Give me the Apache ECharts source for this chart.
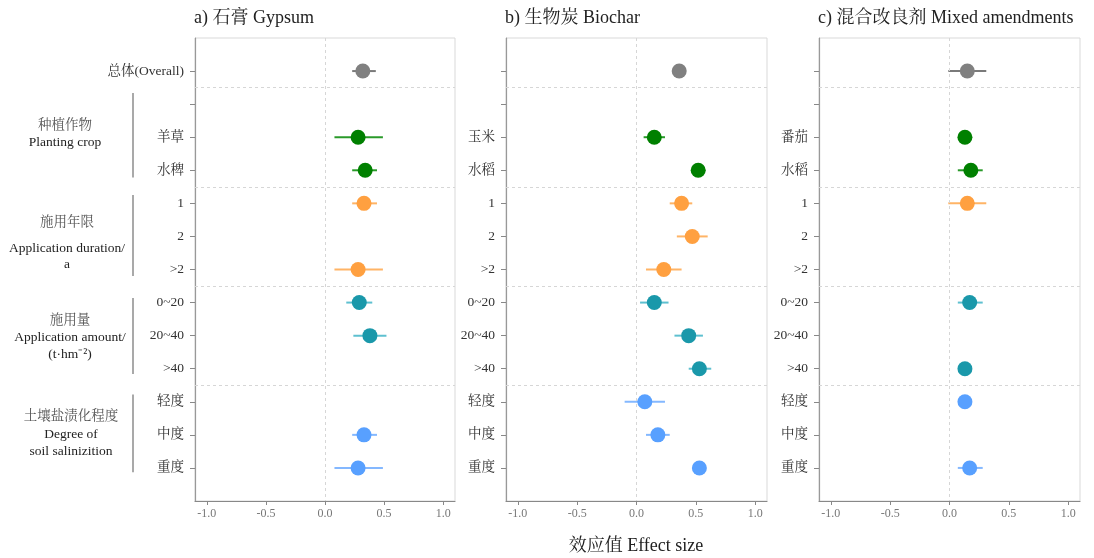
<!DOCTYPE html>
<html>
<head>
<meta charset="utf-8">
<script src="https://cdn.jsdelivr.net/npm/echarts@6/dist/echarts.min.js"></script>
<style>
  html, body { margin: 0; padding: 0; background: #fff; }
  #chart { width: 1094px; height: 558px; }
</style>
</head>
<body>
<div id="chart"></div>
<script>
// Row labels per panel (top to bottom)
const rowLabelsGypsum  = ['总体(Overall)', '', '羊草', '水稗', '1', '2', '>2', '0~20', '20~40', '>40', '轻度', '中度', '重度'];
const rowLabelsBiochar = ['', '', '玉米', '水稻', '1', '2', '>2', '0~20', '20~40', '>40', '轻度', '中度', '重度'];
const rowLabelsMixed   = ['', '', '番茄', '水稻', '1', '2', '>2', '0~20', '20~40', '>40', '轻度', '中度', '重度'];

// Effect sizes with 95% CI (null = no data for that subgroup)
const gypsumMean  = [0.32, null, 0.28, 0.34, 0.33, null, 0.28, 0.29, 0.38, null, null, 0.33, 0.28];
const gypsumLow   = [0.23, null, 0.08, 0.23, 0.23, null, 0.08, 0.18, 0.24, null, null, 0.23, 0.08];
const gypsumHigh  = [0.43, null, 0.49, 0.44, 0.44, null, 0.49, 0.40, 0.52, null, null, 0.44, 0.49];

const biocharMean = [0.36, null, 0.15, 0.52, 0.38, 0.47, 0.23, 0.15, 0.44, 0.53, 0.07, 0.18, 0.53];
const biocharLow  = [0.33, null, 0.06, 0.47, 0.28, 0.34, 0.08, 0.03, 0.32, 0.44, -0.10, 0.08, 0.49];
const biocharHigh = [0.39, null, 0.24, 0.58, 0.47, 0.60, 0.38, 0.27, 0.56, 0.63, 0.24, 0.28, 0.57];

const mixedMean   = [0.15, null, 0.13, 0.18, 0.15, null, null, 0.17, null, 0.13, 0.13, null, 0.17];
const mixedLow    = [-0.01, null, 0.11, 0.07, -0.01, null, null, 0.07, null, 0.10, 0.10, null, 0.07];
const mixedHigh   = [0.31, null, 0.15, 0.28, 0.31, null, null, 0.28, null, 0.16, 0.16, null, 0.28];

// Which factor group each row belongs to
const rowGroup = [0, 1, 1, 1, 2, 2, 2, 3, 3, 3, 4, 4, 4];
const pointColors = ['#808080', '#008000', '#FFA040', '#1A98AA', '#58A0FF'];
const barColors   = ['#7a7a7a', '#2a9a2a', '#FFB466', '#5EC0D0', '#84B8FF'];

// Group separators (between rows) and x ticks
const separators = [0.5, 3.5, 6.5, 9.5];
const xTicks = [-1, -0.5, 0, 0.5, 1];

const panelTitles = ['a) 石膏 Gypsum', 'b) 生物炭 Biochar', 'c) 混合改良剂 Mixed amendments'];

// Left-side factor group annotations: row span of bracket, and caption lines (text, row position)
const groupSpans = [[0.66, 3.22], [3.75, 6.2], [6.86, 9.16], [9.78, 12.13]];
const groupTexts = [
  [['种植作物', 1.63], ['Planting crop', 2.17]],
  [['施用年限', 4.59], ['Application duration/', 5.35], ['a', 5.86]],
  [['施用量', 7.53], ['Application amount/', 8.06], ['(t·hm⁻²)', 8.56]],
  [['土壤盐渍化程度', 10.45], ['Degree of', 10.98], ['soil salinizition', 11.49]]
];
const groupTextX = [65, 67, 70, 71];

const FONT = "'Liberation Serif', 'Noto Serif CJK SC', 'Noto Sans CJK SC', serif";

const panels = [
  { labels: rowLabelsGypsum,  mean: gypsumMean,  low: gypsumLow,  high: gypsumHigh,  left: 195, width: 260 },
  { labels: rowLabelsBiochar, mean: biocharMean, low: biocharLow, high: biocharHigh, left: 506, width: 261 },
  { labels: rowLabelsMixed,   mean: mixedMean,   low: mixedLow,   high: mixedHigh,   left: 819, width: 261 }
];
const gridTop = 38, gridHeight = 463;
const rowIdx = rowGroup.map((_, i) => i);

const grids = [], xAxes = [], yAxes = [], series = [], titles = [];

panels.forEach((p, k) => {
  grids.push({ left: p.left, top: gridTop, width: p.width, height: gridHeight,
               show: true, borderColor: '#d9d9d9', borderWidth: 1, backgroundColor: 'transparent' });
  titles.push({ text: panelTitles[k], left: p.left - 1, top: 9, padding: 0,
                textStyle: { fontFamily: FONT, fontSize: 18, fontWeight: 'normal', color: '#222' } });
  xAxes.push({
    type: 'value', gridIndex: k, min: -1.1, max: 1.1,
    axisLine: { show: true, onZero: false, lineStyle: { color: '#888', width: 1.2 } },
    axisTick: { show: true, length: 4, customValues: xTicks, lineStyle: { color: '#888' } },
    axisLabel: { customValues: xTicks, margin: 7, color: '#777', fontFamily: FONT, fontSize: 12,
                 formatter: v => v.toFixed(1) },
    splitLine: { show: false }
  });
  yAxes.push({
    type: 'value', gridIndex: k, inverse: true, min: -1, max: 13,
    axisLine: { show: true, onZero: false, lineStyle: { color: '#999', width: 1.2 } },
    axisTick: { show: true, length: 5, customValues: rowIdx, lineStyle: { color: '#888' } },
    axisLabel: { customValues: rowIdx, margin: 11, color: '#333', fontFamily: FONT, fontSize: 13.5,
                 formatter: v => p.labels[Math.round(v)] },
    splitLine: { show: false }
  });

  // Confidence-interval bars
  const ciData = [];
  p.mean.forEach((m, i) => { if (m !== null) ciData.push([p.low[i], p.high[i], i]); });
  series.push({
    type: 'custom', xAxisIndex: k, yAxisIndex: k, data: ciData,
    encode: { x: [0, 1], y: 2 },
    renderItem: (params, api) => {
      const r = api.value(2);
      const a = api.coord([api.value(0), r]);
      const b = api.coord([api.value(1), r]);
      return { type: 'line', shape: { x1: a[0], y1: a[1], x2: b[0], y2: b[1] },
               style: { stroke: barColors[rowGroup[r]], lineWidth: 2 } };
    },
    markLine: {
      silent: true, symbol: 'none', label: { show: false },
      lineStyle: { color: '#d6d6d6', type: [3, 3], width: 1 },
      data: [{ xAxis: 0 }].concat(separators.map(s => ({ yAxis: s })))
    },
    z: 2
  });

  // Mean effect points
  const ptData = [];
  p.mean.forEach((m, i) => {
    if (m !== null) ptData.push({ value: [m, i], itemStyle: { color: pointColors[rowGroup[i]], opacity: 1 } });
  });
  series.push({
    type: 'scatter', xAxisIndex: k, yAxisIndex: k, data: ptData,
    symbol: 'circle', symbolSize: 15, itemStyle: { opacity: 1 }, z: 3
  });
});

const chart = echarts.init(document.getElementById('chart'), null, { renderer: 'canvas' });
chart.setOption({
  animation: false,
  backgroundColor: '#fff',
  title: titles.concat([{ text: '效应值 Effect size', left: 636, top: 537, textAlign: 'center', padding: 0,
    textStyle: { fontFamily: FONT, fontSize: 18, fontWeight: 'normal', color: '#222' } }]),
  grid: grids, xAxis: xAxes, yAxis: yAxes, series: series
});

// Left-side group brackets and captions, placed on the first panel's row scale
const graphics = [];
const bracketX = 133;
groupSpans.forEach((s, g) => {
  const y1 = chart.convertToPixel({ gridIndex: 0 }, [0, s[0]])[1];
  const y2 = chart.convertToPixel({ gridIndex: 0 }, [0, s[1]])[1];
  graphics.push({ type: 'line', shape: { x1: bracketX, y1: y1, x2: bracketX, y2: y2 },
                  style: { stroke: '#8c8c8c', lineWidth: 1.5 } });
  groupTexts[g].forEach(t => {
    const y = chart.convertToPixel({ gridIndex: 0 }, [0, t[1]])[1];
    graphics.push({ type: 'text', x: groupTextX[g], y: y,
      style: { text: t[0], fontFamily: FONT, fontSize: 13.5, fill: /[\u4e00-\u9fff]/.test(t[0]) ? '#555' : '#222',
               textAlign: 'center', textVerticalAlign: 'middle' } });
  });
});
chart.setOption({ graphic: graphics });
</script>
</body>
</html>
